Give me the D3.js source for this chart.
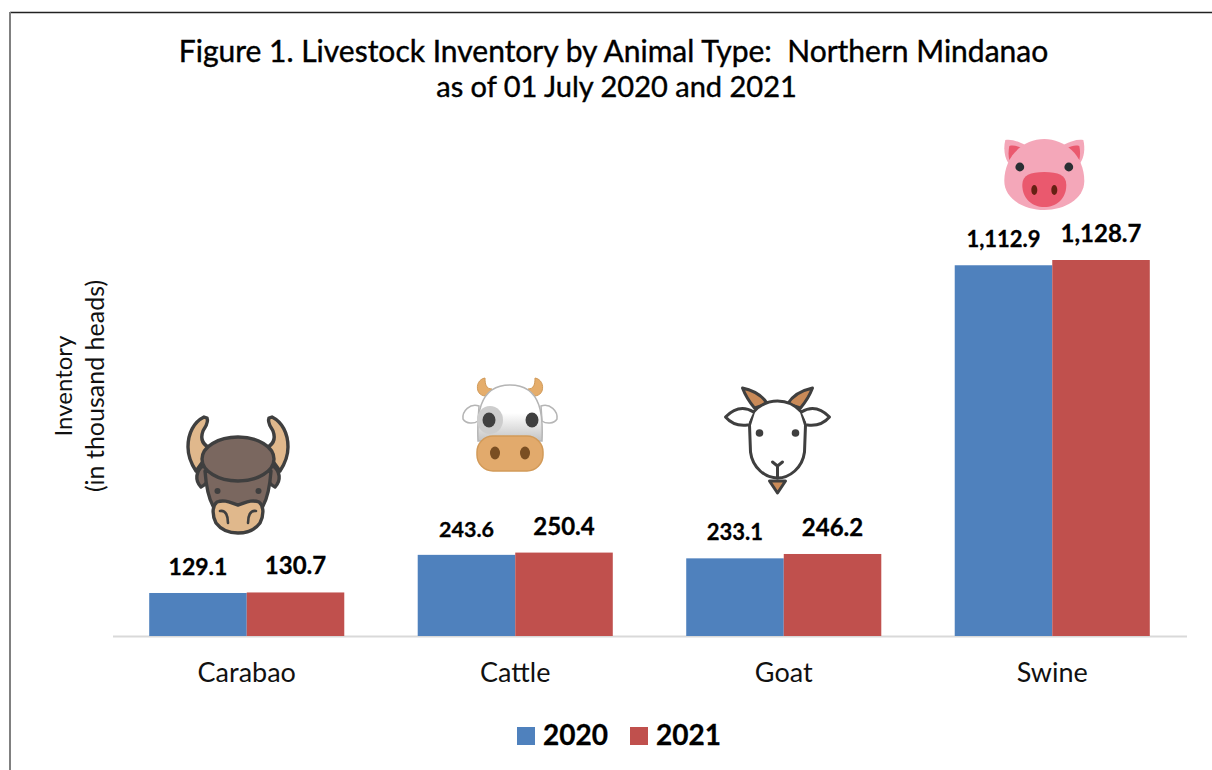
<!DOCTYPE html>
<html><head><meta charset="utf-8">
<script src="https://cdnjs.cloudflare.com/ajax/libs/d3/7.8.5/d3.min.js"></script>
<style>html,body{margin:0;padding:0;background:#fff}svg{display:block}text{font-family:Lato,sans-serif}</style>
</head><body><svg id="c" width="1212" height="770"></svg>
<script>
const categories = ["Carabao","Cattle","Goat","Swine"];
const years = ["2020","2021"];
const values2020 = [129.1,243.6,233.1,1112.9];
const values2021 = [130.7,250.4,246.2,1128.7];
const labels2020 = ["129.1","243.6","233.1","1,112.9"];
const labels2021 = ["130.7","250.4","246.2","1,128.7"];
const colors = ["#4f81bd","#c0504d"];
const titleLines = ["Figure 1. Livestock Inventory by Animal Type:  Northern Mindanao","as of 01 July 2020 and 2021"];

const svg = d3.select("#c");
const x0 = d3.scaleBand().domain(categories).range([112.5,1186.5]).paddingInner(0.2735).paddingOuter(0.1367);
const x1 = d3.scaleBand().domain(years).range([0,x0.bandwidth()]);
const y = d3.scaleLinear().domain([0,1128.7]).range([636,260]);

// frame
svg.append("line").attr("x1",10).attr("x2",1212).attr("y1",12.5).attr("y2",12.5).attr("stroke","#222").attr("stroke-width",1.5);
svg.append("line").attr("x1",10).attr("x2",10).attr("y1",12).attr("y2",770).attr("stroke","#808080").attr("stroke-width",2);

// title
svg.selectAll(".title").data(titleLines).join("text").attr("class","title")
  .attr("x",(d,i)=>i?616.5:613.5).attr("y",(d,i)=>i?97:62).attr("text-anchor","middle")
  .attr("font-size",(d,i)=>i?29:30).attr("fill","#000").attr("stroke","#000").attr("stroke-width",0.4)
  .style("white-space","pre")
  .text(d=>d);

// y title
const yt = svg.append("g").attr("transform","translate(0,386) rotate(-90)");
yt.append("text").attr("x",0).attr("y",72).attr("text-anchor","middle").attr("font-size",24).attr("fill","#111").text("Inventory");
yt.append("text").attr("x",0).attr("y",104).attr("text-anchor","middle").attr("font-size",25).attr("fill","#111").text("(in thousand heads)");

// axis
const ax = svg.append("g").attr("transform","translate(0,636)").call(d3.axisBottom(x0).tickSize(0).tickPadding(27));
ax.select(".domain").attr("stroke","#d9d9d9").attr("stroke-width",2);
ax.selectAll("text").attr("font-size",27).attr("fill","#111").style("font-family","Lato,sans-serif");

// bars
const series = [values2020,values2021];
const labelSets = [labels2020,labels2021];
const labelSize = [[23,21.5,22,22],[24,24,24,24]];
years.forEach((yr,s)=>{
  svg.append("g").selectAll("rect").data(series[s]).join("rect")
    .attr("x",(d,i)=>x0(categories[i])+x1(yr)).attr("width",x1.bandwidth())
    .attr("y",d=>y(d)).attr("height",d=>y(0)-y(d)).attr("fill",colors[s]);
  svg.append("g").selectAll("text").data(series[s]).join("text")
    .attr("x",(d,i)=>x0(categories[i])+x1(yr)+x1.bandwidth()/2)
    .attr("y",d=>y(d)-18)
    .attr("text-anchor","middle").attr("font-weight",700).attr("fill","#000")
    .attr("stroke","#000").attr("stroke-width",0.3)
    .attr("font-size",(d,i)=>labelSize[s][i])
    .text((d,i)=>labelSets[s][i]);
});

// legend
const lg = svg.append("g").selectAll("g").data(years).join("g").attr("transform",(d,i)=>`translate(${517+i*113},0)`);
lg.append("rect").attr("y",727).attr("width",18).attr("height",18).attr("fill",(d,i)=>colors[i]);
lg.append("text").attr("x",26).attr("y",745).attr("font-size",28).attr("font-weight",700).attr("fill","#000").attr("stroke","#000").attr("stroke-width",0.3).text(d=>d);

// icons
function add(g,tag,attrs){const e=g.append(tag);Object.entries(attrs).forEach(([k,v])=>e.attr(k,v));return e;}
const dark="#3f3f3f";

// carabao
(function(){
  const g=svg.append("g").attr("transform","translate(238,473)");
  const hs={stroke:dark,"stroke-width":3.4,"stroke-linejoin":"round"};
  [1,-1].forEach(m=>{
    const h=g.append("g").attr("transform",`scale(${m},1)`);
    add(h,"path",{d:"M34,-56C44,-51 50,-40 50,-26C50,-16 46,-8 42,-2L26,-24C36,-28 38,-34 35,-42C33,-46 29,-50 31,-55Z",fill:"#e0b88c",...hs});
    add(h,"path",{d:"M34,-8C43,-2 43,8 37,14C33,12 29,8 27,2Z",fill:"#7a675f",...hs});
  });
  add(g,"path",{d:"M-33,-2C-32,12 -30,24 -25,33C-20,42 -14,46 -8,48L8,48C14,46 20,42 25,33C30,24 32,12 33,-2Z",fill:"#7a675f",...hs});
  add(g,"ellipse",{cx:0,cy:-14,rx:36,ry:22,fill:"#7a675f",...hs});
  add(g,"circle",{cx:-20.5,cy:18,r:3,fill:dark});
  add(g,"circle",{cx:20.5,cy:18,r:3,fill:dark});
  add(g,"path",{d:"M-21,29C-13,26 -7,30 0,32C7,30 13,26 21,29C26,33 26,42 22,50C16,58 8,60 0,60C-8,60 -16,58 -22,50C-26,42 -26,33 -21,29Z",fill:"#e0b88c",...hs});
  add(g,"path",{d:"M-18,38C-12,37 -10,43 -10,50M18,38C12,37 10,43 10,50",fill:"none",stroke:dark,"stroke-width":2.6,"stroke-linecap":"round"});
})();

// cattle
(function(){
  const defs=svg.append("defs");
  const gr=defs.append("linearGradient").attr("id","cowFace").attr("x1",0).attr("x2",0).attr("y1",0).attr("y2",1);
  gr.append("stop").attr("offset","50%").attr("stop-color","#ffffff");
  gr.append("stop").attr("offset","100%").attr("stop-color","#c4c4c4");
  const g=svg.append("g").attr("transform","translate(510,427)");
  [1,-1].forEach(m=>{
    const h=g.append("g").attr("transform",`scale(${m},1)`);
    add(h,"path",{d:"M18,-38C24,-38 25,-43 25,-49C31,-48 34,-42 32,-36C30,-31 24,-30 20,-32Z",fill:"#e5ad6b",stroke:"#d09a5a","stroke-width":1});
    add(h,"path",{d:"M31,-21C40,-24 48,-16 47,-8C44,-3 36,-3 32,-6Z",fill:"#fff",stroke:"#b5b5b5","stroke-width":1.5});
  });
  add(g,"path",{d:"M-32,14C-33,-8 -33,-42 0,-42C33,-42 33,-8 32,14Z",fill:"url(#cowFace)",stroke:"#b5b5b5","stroke-width":1.5});
  add(g,"ellipse",{cx:-20,cy:-7,rx:13,ry:14,fill:"#cdcdcd"});
  add(g,"ellipse",{cx:-21,cy:-7,rx:6.5,ry:7.5,fill:"#404040"});
  add(g,"ellipse",{cx:22,cy:-7,rx:6.5,ry:7.5,fill:"#404040"});
  add(g,"rect",{x:-33,y:9,width:66,height:35,rx:16,ry:16,fill:"#e2aa6c",stroke:"#d29a58","stroke-width":1.5});
  add(g,"ellipse",{cx:-15,cy:26,rx:5,ry:6.5,fill:"#7a4e22"});
  add(g,"ellipse",{cx:15,cy:26,rx:5,ry:6.5,fill:"#7a4e22"});
})();

// goat
(function(){
  const g=svg.append("g").attr("transform","translate(777.5,440)");
  const ln={stroke:dark,"stroke-width":3,"stroke-linejoin":"round","stroke-linecap":"round"};
  [1,-1].forEach(m=>{
    const h=g.append("g").attr("transform",`scale(${m},1)`);
    add(h,"path",{d:"M10,-36C16,-46 26,-50 35,-52C32,-44 28,-38 23,-32Z",fill:"#c98a58",...ln});
  });
  add(g,"path",{d:"M-24,-28C-16,-37 -8,-39 0,-39C8,-39 16,-37 24,-28L28,-15L27,12C25,28 12,38 0,38C-12,38 -25,28 -27,12L-28,-15Z",fill:"#fff",...ln});
  [1,-1].forEach(m=>{
    const h=g.append("g").attr("transform",`scale(${m},1)`);
    add(h,"path",{d:"M24,-28C32,-33 42,-33 52,-23C46,-16 38,-14 30,-15",fill:"#fff",...ln});
  });
  add(g,"circle",{cx:-18,cy:-7,r:3.8,fill:dark});
  add(g,"circle",{cx:18,cy:-7,r:3.8,fill:dark});
  add(g,"path",{d:"M-5,22L0,26L5,22M0,26V38",fill:"none",...ln});
  add(g,"path",{d:"M-8,41L8,41L0,53Z",fill:"#c98a58",...ln});
})();

// swine
(function(){
  const g=svg.append("g").attr("transform","translate(1044.3,173)");
  [1,-1].forEach(m=>{
    const h=g.append("g").attr("transform",`scale(${m},1)`);
    add(h,"path",{d:"M19,-28C27,-32 33,-34 39,-33C41,-25 40,-16 36,-10Z",fill:"#f4a7b9"});
    add(h,"path",{d:"M23,-25C27,-27 31,-28 35,-27C36,-22 36,-17 35,-13Z",fill:"#ea596e"});
  });
  add(g,"path",{d:"M-40,8C-40,-18 -20,-34 0,-34C20,-34 40,-18 40,8C40,26 20,37 0,37C-20,37 -40,26 -40,8Z",fill:"#f4a7b9"});
  add(g,"circle",{cx:-24.5,cy:-6,r:4.4,fill:"#292f33"});
  add(g,"circle",{cx:24.5,cy:-6,r:4.4,fill:"#292f33"});
  add(g,"path",{d:"M-22,12C-22,2 -14,-1 0,-1C14,-1 22,2 22,12C22,26 12,34 0,34C-12,34 -22,26 -22,12Z",fill:"#ea596e"});
  add(g,"ellipse",{cx:-10,cy:17,rx:3,ry:5,fill:"#662113"});
  add(g,"ellipse",{cx:10,cy:17,rx:3,ry:5,fill:"#662113"});
})();
</script></body></html>
